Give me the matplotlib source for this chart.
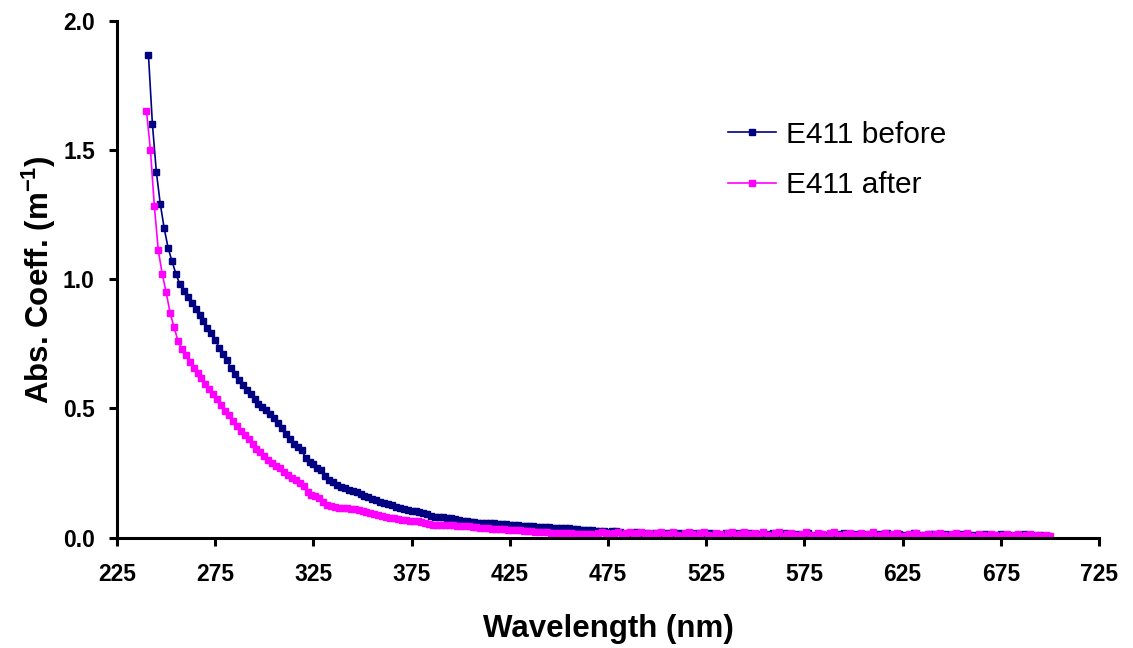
import numpy as np
import matplotlib
matplotlib.use('Agg')
import matplotlib.pyplot as plt
from matplotlib.ticker import FormatStrFormatter

plt.rcParams['font.family'] = ['Liberation Sans', 'DejaVu Sans']
plt.rcParams['mathtext.fontset'] = 'custom'
plt.rcParams['mathtext.rm'] = 'Liberation Sans:bold'
plt.rcParams['mathtext.bf'] = 'Liberation Sans:bold'

# absorption coefficient (m^-1)
# "before": every 2 nm starting at 241 nm
before = [
    1.867, 1.601, 1.416, 1.292, 1.197, 1.121, 1.069, 1.020, 0.980, 0.955,
    0.930, 0.906, 0.885, 0.862, 0.838, 0.812, 0.790, 0.766, 0.735, 0.712,
    0.688, 0.657, 0.634, 0.611, 0.592, 0.572, 0.554, 0.535, 0.518, 0.505,
    0.494, 0.478, 0.462, 0.445, 0.426, 0.402, 0.381, 0.362, 0.352, 0.338,
    0.310, 0.292, 0.284, 0.271, 0.262, 0.238, 0.222, 0.214, 0.205, 0.197,
    0.192, 0.186, 0.180, 0.175, 0.169, 0.162, 0.156, 0.151, 0.146, 0.140,
    0.135, 0.130, 0.126, 0.120, 0.115, 0.112, 0.108, 0.105, 0.103, 0.099,
    0.095, 0.090, 0.085, 0.082, 0.080, 0.079, 0.077, 0.076, 0.073, 0.069,
    0.066, 0.063, 0.061, 0.060, 0.058, 0.057, 0.056, 0.055, 0.056, 0.054,
    0.053, 0.054, 0.051, 0.049, 0.048, 0.046, 0.045, 0.044, 0.044, 0.043,
    0.042, 0.040, 0.041, 0.039, 0.038, 0.037, 0.038, 0.036, 0.034, 0.033,
    0.031, 0.030, 0.029, 0.028, 0.027, 0.026, 0.026, 0.024, 0.027, 0.025,
    0.022, 0.014, 0.020, 0.010, 0.021, 0.016, 0.008, 0.019, 0.013, 0.018,
    0.009, 0.016, 0.020, 0.007, 0.015, 0.019, 0.011, 0.005, 0.017, 0.013,
    0.019, 0.008, 0.013, 0.018, 0.006, 0.015, 0.011, 0.018, 0.005, 0.014,
    0.017, 0.008, 0.012, 0.019, 0.005, 0.010, 0.016, 0.009, 0.014, 0.018,
    0.004, 0.013, 0.017, 0.007, 0.011, 0.016, 0.005, 0.010, 0.019, 0.008,
    0.012, 0.016, 0.003, 0.010, 0.015, 0.006, 0.013, 0.018, 0.005, 0.009,
    0.014, 0.003, 0.011, 0.016, 0.007, 0.005, 0.013, 0.010, 0.017, 0.004,
    0.008, 0.015, 0.010, 0.002, 0.012, 0.017, 0.006, 0.009, 0.003, 0.013,
    0.016, 0.005, 0.010, 0.014, 0.003, 0.011, 0.007, 0.015, 0.005, 0.009,
    0.012, 0.003, 0.008, 0.014, 0.006, 0.002, 0.010, 0.016, 0.005, 0.009,
    0.004, 0.011, 0.007, 0.013, 0.003, 0.009, 0.006, 0.012, 0.004, 0.008,
]
# "after": every 2 nm starting at 240 nm
after = [
    1.649, 1.500, 1.283, 1.112, 1.020, 0.950, 0.870, 0.815, 0.762, 0.730,
    0.705, 0.680, 0.656, 0.637, 0.616, 0.596, 0.575, 0.556, 0.535, 0.514,
    0.492, 0.473, 0.452, 0.433, 0.412, 0.396, 0.380, 0.362, 0.345, 0.330,
    0.315, 0.300, 0.290, 0.278, 0.268, 0.255, 0.242, 0.232, 0.222, 0.212,
    0.200, 0.178, 0.166, 0.160, 0.155, 0.140, 0.128, 0.122, 0.118, 0.116,
    0.115, 0.113, 0.112, 0.110, 0.108, 0.104, 0.100, 0.096, 0.092, 0.088,
    0.084, 0.081, 0.078, 0.075, 0.071, 0.069, 0.068, 0.066, 0.064, 0.063,
    0.061, 0.058, 0.053, 0.050, 0.050, 0.049, 0.051, 0.050, 0.048, 0.046,
    0.045, 0.044, 0.044, 0.042, 0.040, 0.039, 0.038, 0.036, 0.035, 0.034,
    0.033, 0.032, 0.031, 0.030, 0.029, 0.028, 0.027, 0.026, 0.025, 0.024,
    0.023, 0.022, 0.021, 0.020, 0.019, 0.020, 0.018, 0.018, 0.017, 0.016,
    0.015, 0.016, 0.014, 0.013, 0.012, 0.018, 0.021, 0.017, 0.015, 0.019,
    0.022, 0.010, 0.018, 0.024, 0.008, 0.017, 0.021, 0.012, 0.019, 0.006,
    0.017, 0.023, 0.009, 0.016, 0.022, 0.011, 0.005, 0.019, 0.024, 0.013,
    0.008, 0.018, 0.023, 0.012, 0.006, 0.020, 0.015, 0.004, 0.017, 0.022,
    0.010, 0.016, 0.024, 0.007, 0.013, 0.019, 0.005, 0.021, 0.012, 0.008,
    0.018, 0.023, 0.006, 0.014, 0.020, 0.009, 0.004, 0.016, 0.022, 0.011,
    0.007, 0.019, 0.013, 0.003, 0.017, 0.021, 0.010, 0.006, 0.015, 0.020,
    0.012, 0.004, 0.018, 0.009, 0.014, 0.021, 0.006, 0.011, 0.017, 0.003,
    0.013, 0.019, 0.008, 0.005, 0.016, 0.010, 0.020, 0.007, 0.012, 0.015,
    0.004, 0.014, 0.018, 0.009, 0.003, 0.013, 0.017, 0.006, 0.011, 0.019,
    0.008, 0.002, 0.015, 0.010, 0.005, 0.016, 0.012, 0.004, 0.009, 0.014,
    0.006, 0.011, 0.015, 0.003, 0.009, 0.013, 0.005, 0.010, 0.007, 0.012,
    0.008,
]
before_nm = 241 + 2 * np.arange(len(before))
after_nm = 240 + 2 * np.arange(len(after))

x_ticks = [225, 275, 325, 375, 425, 475, 525, 575, 625, 675, 725]
y_ticks = [0.0, 0.5, 1.0, 1.5, 2.0]

fig = plt.figure(figsize=(11.33, 6.48), dpi=100)
ax = fig.add_axes([0.1033, 0.1702, 0.8667, 0.798])

ax.plot(before_nm, before, color='#000080', lw=1.2, marker='s', ms=4,
        mec='#000080', mfc='#000080', label='E411 before')
ax.plot(after_nm, after, color='#FF00FF', lw=1.2, marker='s', ms=4,
        mec='#FF00FF', mfc='#FF00FF', label='E411 after')

ax.set_xlim(225, 725)
ax.set_ylim(0, 2.0)
ax.set_xticks(x_ticks)
ax.set_yticks(y_ticks)
ax.yaxis.set_major_formatter(FormatStrFormatter('%.1f'))

for s in ['top', 'right']:
    ax.spines[s].set_visible(False)
for s in ['left', 'bottom']:
    ax.spines[s].set_linewidth(2.2)
ax.tick_params(direction='out', length=6, width=2.2, labelsize=16.5)
ax.tick_params(axis='x', pad=12)
ax.tick_params(axis='y', pad=10)
for lab in ax.get_xticklabels() + ax.get_yticklabels():
    lab.set_fontweight('bold')

ax.set_xlabel('Wavelength (nm)', fontsize=22.5, fontweight='bold')
ax.set_ylabel(r'Abs. Coeff. (m$^{-1}$)', fontsize=22.5, fontweight='bold')
ax.xaxis.set_label_coords(0.5, -0.148)
ax.yaxis.set_label_coords(-0.060, 0.5)

leg = ax.legend(loc='upper left', bbox_to_anchor=(0.622, 0.806), frameon=False,
                fontsize=21.5, handlelength=1.6, handletextpad=0.35,
                labelspacing=0.75, borderpad=0, borderaxespad=0)

fig.savefig('out.png', dpi=100)
